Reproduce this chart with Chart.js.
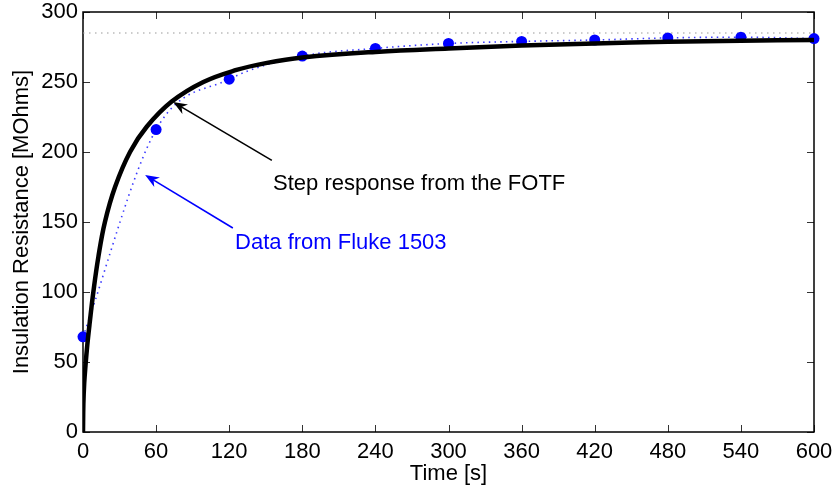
<!DOCTYPE html>
<html>
<head>
<meta charset="utf-8">
<script src="https://cdn.jsdelivr.net/npm/chart.js@4"></script>
<style>
  html, body { margin: 0; padding: 0; background: #fff; }
  #wrap { width: 833px; height: 487px; }
</style>
</head>
<body>
<div id="wrap"><canvas id="irChart" width="833" height="487"></canvas></div>
<script>
// measured data (Fluke 1503)
const flukeTime = [0, 60, 120, 180, 240, 300, 360, 420, 480, 540, 600];
const flukeMOhm = [68, 216, 252, 268.5, 274, 277.5, 279, 280, 281.5, 282, 281];

// FOTF step response
const fotfTime = [0, 0.3, 1, 2, 3.5, 5.5, 8.5, 12.6, 18, 26.3, 38.6, 52.3, 72.8, 98.8, 126, 150, 180, 240, 300, 360, 420, 480, 540, 600];
const fotfMOhm = [0, 20, 35, 47, 62, 78, 100, 125, 150, 175, 200, 218, 236, 250, 258.6, 263.5, 267.5, 271.5, 274, 276, 277.5, 278.7, 279.5, 280];

// steady-state reference level
const refTime = [0, 600];
const refMOhm = [285, 285];

const xTicks = [0, 60, 120, 180, 240, 300, 360, 420, 480, 540, 600];
const yTicks = [0, 50, 100, 150, 200, 250, 300];

const FONT = "'Liberation Sans', Helvetica, Arial, sans-serif";

function toPoints(xs, ys) {
  return xs.map((x, i) => ({ x: x, y: ys[i] }));
}

function arrow(ctx, x1, y1, x2, y2, color) {
  const ang = Math.atan2(y2 - y1, x2 - x1);
  const len = 14, half = 5.5;
  ctx.save();
  ctx.strokeStyle = color;
  ctx.fillStyle = color;
  ctx.lineWidth = 1.6;
  ctx.beginPath();
  ctx.moveTo(x1, y1);
  ctx.lineTo(x2 - Math.cos(ang) * 6, y2 - Math.sin(ang) * 6);
  ctx.stroke();
  ctx.translate(x2, y2);
  ctx.rotate(ang);
  ctx.beginPath();
  ctx.moveTo(0, 0);
  ctx.lineTo(-len, -half);
  ctx.lineTo(-len * 0.7, 0);
  ctx.lineTo(-len, half);
  ctx.closePath();
  ctx.fill();
  ctx.restore();
}

const frame = {
  id: 'frame',
  beforeDatasetsDraw(chart) {
    const ctx = chart.ctx;
    const a = chart.chartArea;
    const xs = chart.scales.x, ys = chart.scales.y;

    // inside tick marks on all four sides
    ctx.save();
    ctx.strokeStyle = '#333';
    ctx.lineWidth = 1;
    ctx.beginPath();
    xTicks.forEach(v => {
      const px = Math.round(xs.getPixelForValue(v)) + 0.5;
      ctx.moveTo(px, a.bottom); ctx.lineTo(px, a.bottom - 7);
      ctx.moveTo(px, a.top); ctx.lineTo(px, a.top + 7);
    });
    yTicks.forEach(v => {
      const py = Math.round(ys.getPixelForValue(v)) + 0.5;
      ctx.moveTo(a.left, py); ctx.lineTo(a.left + 7, py);
      ctx.moveTo(a.right, py); ctx.lineTo(a.right - 7, py);
    });
    ctx.stroke();

    // box
    ctx.strokeStyle = '#000';
    ctx.lineWidth = 1.5;
    ctx.strokeRect(a.left, a.top, a.right - a.left, a.bottom - a.top);
    ctx.restore();
  },
  afterDatasetsDraw(chart) {
    const ctx = chart.ctx;
    const xs = chart.scales.x, ys = chart.scales.y;

    // annotations
    arrow(ctx, xs.getPixelForValue(155), ys.getPixelForValue(194),
      xs.getPixelForValue(74), ys.getPixelForValue(235.7), '#000');
    arrow(ctx, xs.getPixelForValue(123), ys.getPixelForValue(145.7),
      xs.getPixelForValue(51), ys.getPixelForValue(183.6), '#0000ff');

    ctx.save();
    ctx.font = '22px ' + FONT;
    ctx.textAlign = 'left';
    ctx.textBaseline = 'alphabetic';
    ctx.fillStyle = '#000';
    ctx.fillText('Step response from the FOTF', xs.getPixelForValue(156), ys.getPixelForValue(173));
    ctx.fillStyle = '#0000ff';
    ctx.fillText('Data from Fluke 1503', xs.getPixelForValue(124.8), ys.getPixelForValue(130.7));
    ctx.restore();
  }
};

window.onload = function () {
  const ctx = document.getElementById('irChart').getContext('2d');
  new Chart(ctx, {
    type: 'scatter',
    data: {
      datasets: [{
        label: 'Step response from the FOTF',
        data: toPoints(fotfTime, fotfMOhm),
        showLine: true,
        borderColor: '#000',
        borderWidth: 4.5,
        pointRadius: 0,
        tension: 0.4,
        order: 0
      }, {
        label: 'Data from Fluke 1503',
        data: toPoints(flukeTime, flukeMOhm),
        showLine: true,
        clip: false,
        borderColor: '#3a3aff',
        borderWidth: 1.6,
        borderDash: [1.5, 4.2],
        backgroundColor: '#0000ff',
        pointBackgroundColor: '#0000ff',
        pointBorderWidth: 0,
        pointRadius: 5.5,
        cubicInterpolationMode: 'monotone',
        order: 1
      }, {
        label: 'reference',
        data: toPoints(refTime, refMOhm),
        showLine: true,
        borderColor: '#999',
        borderWidth: 1.2,
        borderDash: [1.5, 4.5],
        pointRadius: 0,
        order: 2
      }]
    },
    options: {
      responsive: false,
      animation: false,
      layout: { padding: { top: 12, right: 19, left: 0, bottom: 0 } },
      plugins: {
        legend: { display: false },
        tooltip: { enabled: false }
      },
      scales: {
        x: {
          type: 'linear',
          min: 0,
          max: 600,
          afterBuildTicks: (s) => { s.ticks = xTicks.map(v => ({ value: v })); },
          afterFit: (s) => { s.height = 55; s.paddingLeft = 0; s.paddingRight = 0; },
          grid: { display: false, drawTicks: false },
          border: { display: false },
          ticks: { color: '#000', font: { family: FONT, size: 22 }, padding: 7, maxRotation: 0 },
          title: { display: true, text: 'Time [s]', color: '#000', font: { family: FONT, size: 22 }, padding: { top: 0, bottom: 0 } }
        },
        y: {
          min: 0,
          max: 300,
          afterBuildTicks: (s) => { s.ticks = yTicks.map(v => ({ value: v })); },
          afterFit: (s) => { s.width = 83; s.paddingTop = 0; s.paddingBottom = 0; },
          grid: { display: false, drawTicks: false },
          border: { display: false },
          ticks: { color: '#000', font: { family: FONT, size: 22 }, padding: 5 },
          title: { display: true, text: 'Insulation Resistance [MOhms]', color: '#000', font: { family: FONT, size: 22 }, padding: { top: 9, bottom: 0 } }
        }
      }
    },
    plugins: [frame]
  });
};
</script>
</body>
</html>
